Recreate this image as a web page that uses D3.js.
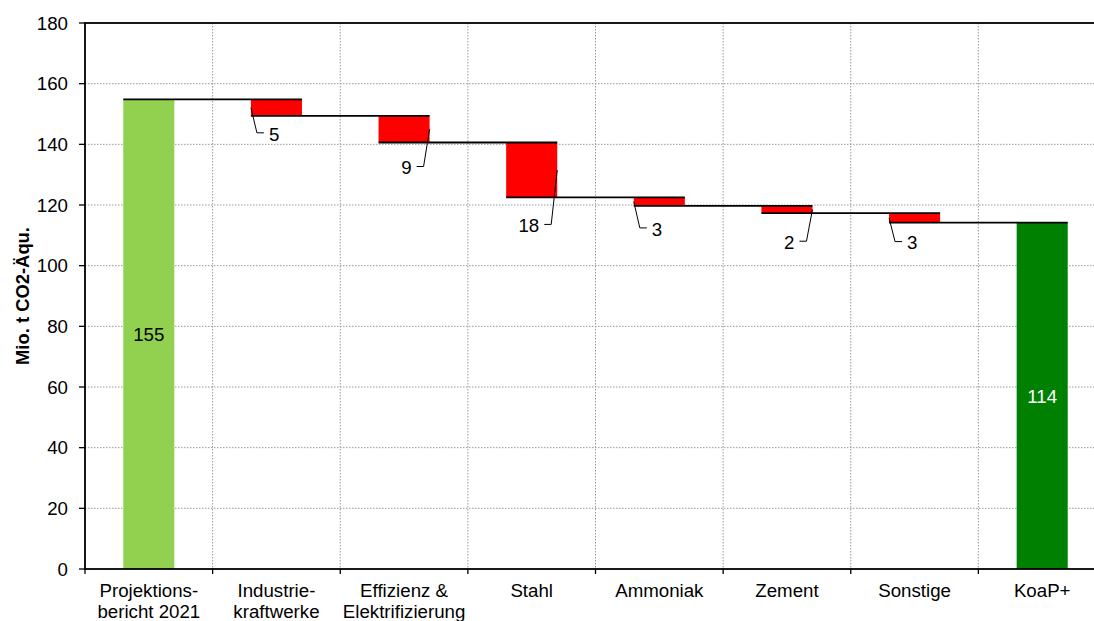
<!DOCTYPE html>
<html>
<head>
<meta charset="utf-8">
<script src="https://cdn.jsdelivr.net/npm/d3@7"></script>
<style>
  html, body { margin: 0; padding: 0; background: #fff; }
  svg { display: block; font-family: Arial, "Liberation Sans", sans-serif; }
</style>
</head>
<body>
<svg id="chart" width="1094" height="621"></svg>
<script>
// Emissions bridge: starting projection, reductions per measure, resulting total
const categories = [
  ["Projektions-", "bericht 2021"],
  ["Industrie-", "kraftwerke"],
  ["Effizienz &", "Elektrifizierung"],
  ["Stahl"],
  ["Ammoniak"],
  ["Zement"],
  ["Sonstige"],
  ["KoaP+"]
];
const startTotal = 154.8;                          // Mio. t CO2-Äqu.
const reductions = [5.4, 8.8, 18.1, 2.8, 2.4, 3.1]; // per measure
const yTicks = [0, 20, 40, 60, 80, 100, 120, 140, 160, 180];

// annotation layout for the reduction labels
const labelSide = ["left", "right", "right", "left", "right", "left"];
const labelDrop = [17, 24, 27, 22, 28, 19];

const svg = d3.select("#chart");
const plotLeft = 85, plotRight = 1106, plotTop = 23, plotBottom = 569;
const fontSize = 18.7;
const fmt = d3.format(".0f");

const keys = categories.map((c, i) => "c" + i);
const x = d3.scaleBand().domain(keys).range([plotLeft, plotRight])
  .paddingInner(0.6).paddingOuter(0.3);
const y = d3.scaleLinear().domain([0, 180]).range([plotBottom, plotTop]);
const step = x.step();

// running levels
const levels = [startTotal];
reductions.forEach(r => levels.push(levels[levels.length - 1] - r));
const endTotal = levels[levels.length - 1];

const steps = reductions.map((r, i) => ({
  key: keys[i + 1], value: r, hi: levels[i], lo: levels[i + 1]
}));

// grid
const grid = svg.append("g");
grid.selectAll("line.h").data(yTicks.filter(t => t > 0 && t < 180)).join("line")
  .attr("class", "h")
  .attr("x1", plotLeft).attr("x2", plotRight)
  .attr("y1", d => y(d)).attr("y2", d => y(d))
  .attr("stroke", "#9a9a9a").attr("stroke-width", 1).attr("stroke-dasharray", "1.5,1.5");
grid.selectAll("line.v").data(d3.range(1, keys.length)).join("line")
  .attr("class", "v")
  .attr("x1", i => plotLeft + i * step).attr("x2", i => plotLeft + i * step)
  .attr("y1", plotTop).attr("y2", plotBottom)
  .attr("stroke", "#9a9a9a").attr("stroke-width", 1).attr("stroke-dasharray", "1.5,1.5");

// total bars
svg.append("rect")
  .attr("x", x(keys[0])).attr("width", x.bandwidth())
  .attr("y", y(startTotal)).attr("height", y(0) - y(startTotal))
  .attr("fill", "#92D050");
svg.append("rect")
  .attr("x", x(keys[keys.length - 1])).attr("width", x.bandwidth())
  .attr("y", y(endTotal)).attr("height", y(0) - y(endTotal))
  .attr("fill", "#008000");

// reduction bars
svg.selectAll("rect.step").data(steps).join("rect")
  .attr("class", "step")
  .attr("x", d => x(d.key)).attr("width", x.bandwidth())
  .attr("y", d => y(d.hi)).attr("height", d => y(d.lo) - y(d.hi))
  .attr("fill", "#FF0000");

// connector lines between consecutive bars
svg.selectAll("line.conn").data(levels).join("line")
  .attr("class", "conn")
  .attr("x1", (d, i) => x(keys[i]))
  .attr("x2", (d, i) => x(keys[i + 1]) + x.bandwidth())
  .attr("y1", d => y(d)).attr("y2", d => y(d))
  .attr("stroke", "#000").attr("stroke-width", 1.8);

// plot frame and axes
svg.append("rect")
  .attr("x", plotLeft).attr("y", plotTop)
  .attr("width", plotRight - plotLeft).attr("height", plotBottom - plotTop)
  .attr("fill", "none").attr("stroke", "#000").attr("stroke-width", 1.8);

const yAxis = svg.append("g");
yAxis.selectAll("line").data(yTicks).join("line")
  .attr("x1", plotLeft - 6).attr("x2", plotLeft)
  .attr("y1", d => y(d)).attr("y2", d => y(d))
  .attr("stroke", "#000").attr("stroke-width", 1.3);
yAxis.selectAll("text").data(yTicks).join("text")
  .attr("x", 68).attr("y", d => y(d)).attr("dy", "0.36em")
  .attr("text-anchor", "end").attr("font-size", fontSize).attr("fill", "#000")
  .text(d => d);

const xAxis = svg.append("g");
xAxis.selectAll("line").data(d3.range(0, keys.length + 1)).join("line")
  .attr("x1", i => plotLeft + i * step).attr("x2", i => plotLeft + i * step)
  .attr("y1", plotBottom).attr("y2", plotBottom + 5)
  .attr("stroke", "#000").attr("stroke-width", 1.3);
const xl = xAxis.selectAll("text").data(categories).join("text")
  .attr("text-anchor", "middle").attr("font-size", fontSize).attr("fill", "#000")
  .attr("transform", (d, i) => `translate(${x(keys[i]) + x.bandwidth() / 2},597)`);
xl.selectAll("tspan").data(d => d).join("tspan")
  .attr("x", 0).attr("y", (d, j) => j * 21).text(d => d);

// axis title
svg.append("text")
  .attr("transform", `translate(22.5,${(plotTop + plotBottom) / 2}) rotate(-90)`)
  .attr("text-anchor", "middle").attr("dominant-baseline", "central")
  .attr("font-size", 18.4).attr("font-weight", "bold").attr("fill", "#000")
  .text("Mio. t CO2-Äqu.");

// total labels
svg.append("text")
  .attr("x", x(keys[0]) + x.bandwidth() / 2).attr("y", (y(startTotal) + y(0)) / 2)
  .attr("dy", "0.36em").attr("text-anchor", "middle").attr("font-size", fontSize).attr("fill", "#000")
  .text(fmt(startTotal));
svg.append("text")
  .attr("x", x(keys[keys.length - 1]) + x.bandwidth() / 2).attr("y", (y(endTotal) + y(0)) / 2)
  .attr("dy", "0.36em").attr("text-anchor", "middle").attr("font-size", fontSize).attr("fill", "#fff")
  .text(fmt(endTotal));

// reduction labels with leader lines
steps.forEach((d, i) => {
  const isLeft = labelSide[i] === "left";
  const sgn = isLeft ? 1 : -1;
  const ex = isLeft ? x(d.key) : x(d.key) + x.bandwidth();
  const my = (y(d.hi) + y(d.lo)) / 2;
  const ly = y(d.lo) + labelDrop[i];
  svg.append("polyline")
    .attr("points", [[ex, my], [ex + sgn * 6, ly], [ex + sgn * 13, ly]].map(p => p.join(",")).join(" "))
    .attr("fill", "none").attr("stroke", "#000").attr("stroke-width", 1);
  svg.append("text")
    .attr("x", ex + sgn * 18).attr("y", ly + 1).attr("dy", "0.36em")
    .attr("text-anchor", isLeft ? "start" : "end")
    .attr("font-size", fontSize).attr("fill", "#000")
    .text(fmt(d.value));
});
</script>
</body>
</html>
